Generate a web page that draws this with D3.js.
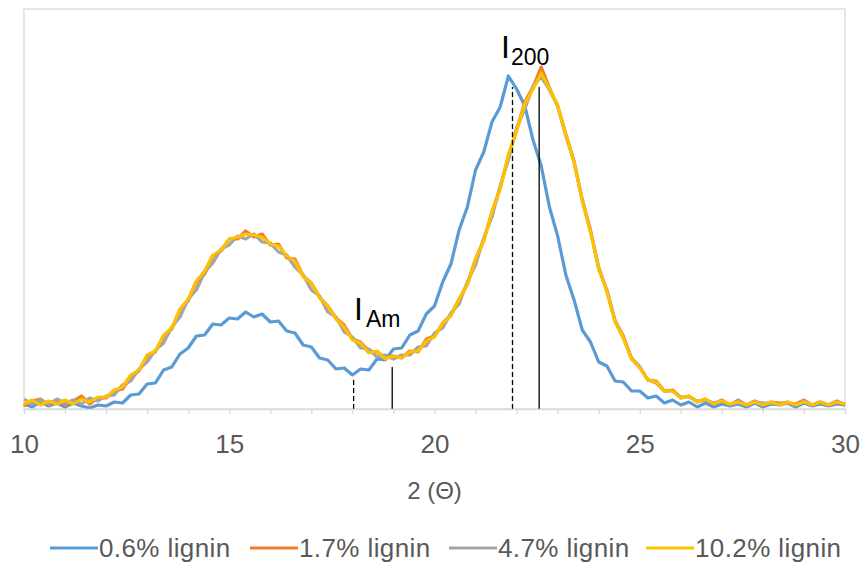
<!DOCTYPE html>
<html>
<head>
<meta charset="utf-8">
<script src="https://cdn.jsdelivr.net/npm/d3@7"></script>
<style>
  body { margin: 0; background: #fff; }
  text { font-family: "Liberation Sans", Arial, sans-serif; }
</style>
</head>
<body>
<div id="chart"></div>
<script>
// scan grid: 10 to 30 deg, one reading every 0.2 deg
const angleStart = 10;
const angleStep = 0.2;

const seriesNames = ["0.6% lignin", "1.7% lignin", "4.7% lignin", "10.2% lignin"];
const seriesColors = ["#5b9bd5", "#ed7d31", "#a5a5a5", "#ffc000"];

// intensities (arbitrary units)
const lignin06 = [5,2,7,3,6,2,6,3,1,4, 3,7,6,14,15,25,26,39,42,55,
  61,73,74,85,84,91,90,97,92,95, 87,88,78,76,64,62,51,49,40,41,
  34,40,39,50,49,60,61,74,78,95, 103,127,145,179,202,239,257,287,302,333,
  320,303,269,243,202,173,134,109,79,67, 47,43,28,27,18,18,11,13,6,9,
  4,7,2,6,2,5,3,5,2,6, 2,5,4,6,2,6,3,5,3,5, 4];
const lignin17 = [3,8,10,4,9,4,8,13,5,11, 11,18,20,32,38,53,57,73,80,99,
  108,127,135,153,158,170,170,178,172,175, 164,165,151,150,133,126,112,103,91,84,
  70,67,58,57,52,53,51,58,57,70, 73,86,94,110,125,150,169,197,221,253,
  279,307,322,342,321,303,275,247,209,179, 140,119,88,73,51,42,29,28,18,19,
  11,13,7,10,5,9,4,9,4,8, 4,7,6,6,5,9,4,7,4,8, 4];
const lignin47 = [10,5,9,5,10,6,9,5,11,8, 13,14,24,28,40,47,59,66,82,92,
  110,119,137,146,160,164,173,170,175,167, 166,157,154,142,134,119,113,97,92,77,
  72,61,60,52,54,50,54,54,62,63, 76,81,96,105,127,144,171,192,223,249,
  281,300,323,332,319,303,273,248,209,178, 142,118,88,71,50,42,29,26,18,18,
  12,12,8,9,6,8,4,8,4,7, 6,6,5,7,4,8,4,7,4,7, 5];
const lignin102 = [5,9,4,8,5,9,5,10,7,12, 12,19,22,34,39,54,58,74,81,100,
  110,128,138,154,159,170,172,175,174,172, 165,163,153,148,132,126,111,103,90,82,
  69,66,56,58,50,53,51,57,58,68, 72,86,93,110,124,150,168,197,220,254,
  278,305,320,336,320,304,274,247,208,177, 141,117,87,71,50,41,29,27,18,18,
  11,13,7,10,5,8,5,7,4,7, 4,7,4,7,4,7,4,7,4,7, 5];

// I_Am and I_200 marker lines (angle, intensity at top, sample)
const markerAngles = [18.03, 18.97, 21.9, 22.55];
const markerTops = [30, 42, 322, 322];
const markerSample = [0, 3, 0, 3];

const labelMain = ["I", "I"];
const labelSub = ["Am", "200"];
const labelAngles = [18.04, 21.62];
const labelLevels = [89, 351];

const xTicks = d3.range(10, 31, 1);

const W = 865, H = 562;
const m = { t: 9, r: 20, b: 153, l: 24 };

const svg = d3.select("#chart").append("svg")
  .attr("width", W).attr("height", H);

const x = d3.scaleLinear().domain([10, 30]).range([m.l, W - m.r]);
const y = d3.scaleLinear().domain([0, 400]).range([H - m.b, m.t]);

// plot area frame
svg.append("rect")
  .attr("x", x(10)).attr("y", y(400))
  .attr("width", x(30) - x(10)).attr("height", y(0) - y(400))
  .attr("fill", "none").attr("stroke", "#d9d9d9").attr("stroke-width", 1.3);

const allSeries = [lignin06, lignin17, lignin47, lignin102].map((vals, i) => ({
  name: seriesNames[i],
  color: seriesColors[i],
  pts: vals.map((v, k) => [angleStart + k * angleStep, v])
}));

const line = d3.line().x(d => x(d[0])).y(d => y(d[1]));

svg.append("g").selectAll("path")
  .data(allSeries).enter()
  .append("path")
  .attr("d", d => line(d.pts))
  .attr("fill", "none")
  .attr("stroke", d => d.color)
  .attr("stroke-width", 3.2)
  .attr("stroke-linejoin", "round");

// marker lines
svg.append("g").selectAll("line")
  .data(markerAngles).enter()
  .append("line")
  .attr("x1", d => x(d)).attr("x2", d => x(d))
  .attr("y1", y(0)).attr("y2", (d, i) => y(markerTops[i]))
  .attr("stroke", "#000").attr("stroke-width", 1.3)
  .attr("stroke-dasharray", (d, i) => markerSample[i] == 0 ? "5,3" : null);

// x axis
const xAxis = svg.append("g")
  .attr("transform", "translate(0," + y(0) + ")")
  .call(d3.axisBottom(x).tickValues(xTicks).tickSize(5)
    .tickFormat(d => d % 5 == 0 ? d : ""));
xAxis.select(".domain").attr("stroke", "#d9d9d9").attr("stroke-width", 1.3);
xAxis.selectAll(".tick line").attr("stroke", "#d9d9d9").attr("stroke-width", 1.3);
xAxis.selectAll(".tick text")
  .attr("y", 44).attr("dy", 0)
  .attr("fill", "#595959")
  .style("font-size", "26px")
  .style("font-family", "'Liberation Sans', Arial, sans-serif");

svg.append("text")
  .attr("x", (x(10) + x(30)) / 2).attr("y", 499)
  .attr("text-anchor", "middle")
  .attr("fill", "#595959")
  .style("font-size", "24px")
  .text("2 (\u0398)");

// peak labels
const lab = svg.append("g").selectAll("text")
  .data(labelMain).enter()
  .append("text")
  .attr("x", (d, i) => x(labelAngles[i]))
  .attr("y", (d, i) => y(labelLevels[i]))
  .attr("fill", "#000");
lab.append("tspan").style("font-size", "32px").text(d => d);
lab.append("tspan").style("font-size", "23px")
  .attr("dx", (d, i) => i == 0 ? 3 : 1).attr("dy", 7)
  .text((d, i) => labelSub[i]);

// legend
const legX = [50, 250, 449, 646];
const leg = svg.append("g").selectAll("g")
  .data(allSeries).enter()
  .append("g")
  .attr("transform", (d, i) => "translate(" + legX[i] + ",548)");
leg.append("line")
  .attr("x1", 0).attr("x2", 48)
  .attr("stroke", d => d.color).attr("stroke-width", 3);
leg.append("text")
  .attr("x", 49).attr("y", 9)
  .attr("fill", "#595959")
  .style("font-size", "26px")
  .style("letter-spacing", "0.4px")
  .text(d => d.name);
</script>
</body>
</html>
